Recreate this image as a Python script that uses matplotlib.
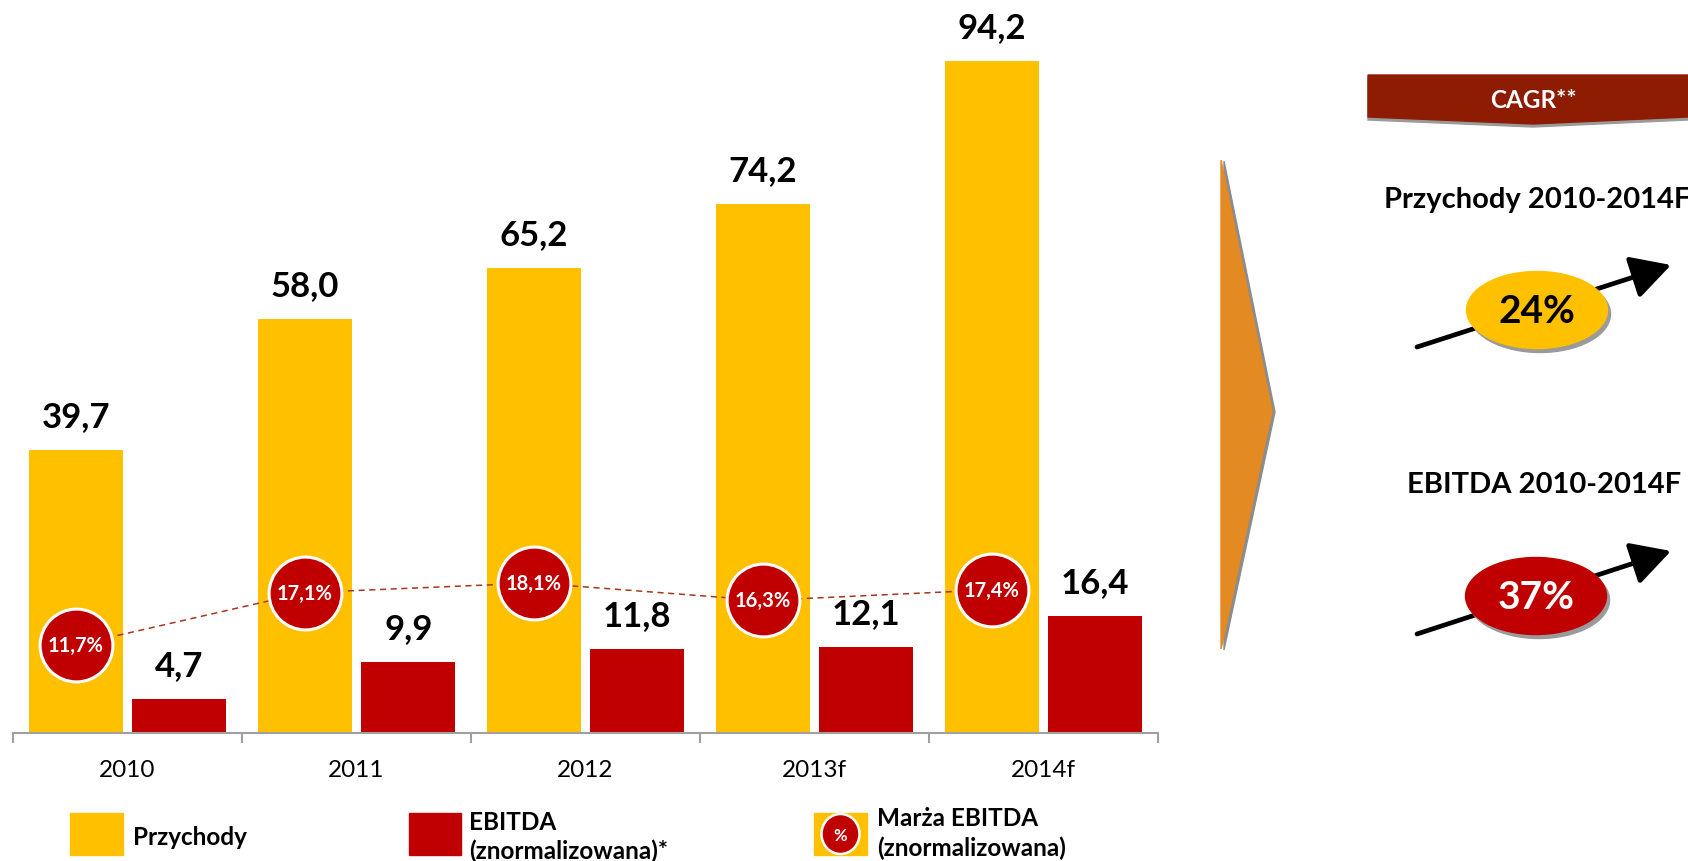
import matplotlib
matplotlib.use("Agg")
import matplotlib.pyplot as plt
from matplotlib.patches import Rectangle, Ellipse, Polygon
import numpy as np

plt.rcParams['font.family'] = ['Lato', 'DejaVu Sans']

# ---- data ----
years = ["2010", "2011", "2012", "2013f", "2014f"]
revenue = [39.7, 58.0, 65.2, 74.2, 94.2]
ebitda = [4.7, 9.9, 11.8, 12.1, 16.4]
margin = [11.7, 17.1, 18.1, 16.3, 17.4]
cagr_labels = ["Przychody 2010-2014F", "EBITDA 2010-2014F"]
cagr_values = ["24%", "37%"]
legend_labels = ["Przychody", "EBITDA\n(znormalizowana)*", "Marża EBITDA\n(znormalizowana)"]

YELLOW = "#FFC000"
RED = "#C00000"
W, H = 1688, 862

def fmt(v):
    return f"{v:.1f}".replace(".", ",")

fig = plt.figure(figsize=(W / 100, H / 100), dpi=100)
ax = fig.add_axes([13 / W, 128 / H, 1145 / W, 713 / H])
x = np.arange(len(years))
bw = 0.41
off = 0.226
ax.bar(x - off, revenue, bw, color=YELLOW, zorder=2)
ax.bar(x + off, ebitda, bw, color=RED, zorder=2)
ax.set_xlim(-0.5, len(years) - 0.5)
ax.set_ylim(0, 100)

for xi, v in zip(x, revenue):
    ax.annotate(fmt(v), (xi - off, v), xytext=(0, 24.5), textcoords="offset points",
                ha="center", va="center", fontsize=25, fontweight="bold", color="black")
for xi, v in zip(x, ebitda):
    ax.annotate(fmt(v), (xi + off, v), xytext=(0, 24.5), textcoords="offset points",
                ha="center", va="center", fontsize=25, fontweight="bold", color="black")

for s in ["top", "right", "left"]:
    ax.spines[s].set_visible(False)
ax.spines["bottom"].set_color("#A0A0A0")
ax.spines["bottom"].set_linewidth(1.5)
ax.set_yticks([])
ax.set_xticks(x)
ax.set_xticklabels(years, fontsize=17.5)
ax.tick_params(axis="x", which="major", length=0, pad=19)
ax.set_xticks(np.arange(-0.5, len(years), 1.0), minor=True)
ax.tick_params(axis="x", which="minor", length=7, width=1.5, color="#A0A0A0", direction="out")

# margin on twin axis
ax2 = ax.twinx()
ax2.set_ylim(2.62, 76.2)
ax2.axis("off")
ax2.plot(x - off, margin, linestyle=(0, (4, 3)), color="#A8361C", lw=1.1, zorder=2)
ax2.scatter(x - off, margin, s=2750, color=RED, edgecolor="white", linewidth=2.2, zorder=3)
for xi, m in zip(x, margin):
    ax2.text(xi - off, m, f"{m:.1f}%".replace(".", ","), ha="center", va="center",
             fontsize=14.5, fontweight="bold", color="white", zorder=4)

# ---- overlay in pixel coordinates ----
ov = fig.add_axes([0, 0, 1, 1], facecolor="none")
ov.set_xlim(0, W)
ov.set_ylim(H, 0)
ov.axis("off")

LFS = 17.5
# legend
ov.add_patch(Rectangle((70, 814), 53, 42, color=YELLOW))
ov.text(133, 838, legend_labels[0], fontsize=LFS, fontweight="bold", va="center", ha="left")
ov.add_patch(Rectangle((409, 814), 52, 42, color=RED))
l1, l2 = legend_labels[1].split("\n")
ov.text(469, 823, l1, fontsize=LFS, fontweight="bold", va="center", ha="left")
ov.text(469, 851, l2, fontsize=LFS, fontweight="bold", va="center", ha="left")
ov.add_patch(Rectangle((814, 814), 53, 42, color=YELLOW))
ov.add_patch(Ellipse((840.5, 835), 38, 40, facecolor=RED, edgecolor="white", lw=1.8))
ov.text(840.5, 836, "%", fontsize=12, fontweight="bold", color="white", ha="center", va="center")
m1, m2 = legend_labels[2].split("\n")
ov.text(877, 819, m1, fontsize=LFS, fontweight="bold", va="center", ha="left")
ov.text(877, 848, m2, fontsize=LFS, fontweight="bold", va="center", ha="left")

# chevron
ov.add_patch(Polygon([(1224, 162), (1275, 413), (1224, 651)], closed=True, color="#8C8C8C"))
ov.add_patch(Polygon([(1221, 161), (1272, 412), (1221, 650)], closed=True, color="#E38A22"))

# CAGR banner
ov.add_patch(Polygon([(1368, 79), (W, 79), (W, 121), (1533, 128), (1368, 121)], closed=True, color="#9A9A9A"))
ov.add_patch(Polygon([(1368, 76), (W, 76), (W, 118), (1533, 125), (1368, 118)], closed=True, color="#8E1C02"))
ov.text(1533, 100, "CAGR**", fontsize=17.5, fontweight="bold", color="white", ha="center", va="center")

# CAGR blocks
ov.text(1537, 200, cagr_labels[0], fontsize=21, fontweight="bold", ha="center", va="center")
ov.text(1544, 485, cagr_labels[1], fontsize=21, fontweight="bold", ha="center", va="center")

for (cx, cy), (ax0, ay0, ax1, ay1), fc, tc, val in [
    ((1537, 311), (1417, 348, 1671, 266), YELLOW, "black", cagr_values[0]),
    ((1536, 597), (1417, 635, 1671, 552), RED, "white", cagr_values[1]),
]:
    ov.annotate("", xy=(ax1, ay1), xytext=(ax0, ay0),
                arrowprops=dict(arrowstyle="-|>,head_length=1.1,head_width=0.6", lw=3.4,
                                color="black", mutation_scale=22, shrinkA=0, shrinkB=0))
    ov.add_patch(Ellipse((cx + 3, cy + 4), 141, 77, color="#9A9A9A", zorder=3))
    ov.add_patch(Ellipse((cx, cy), 141, 77, color=fc, zorder=4))
    ov.text(cx, cy + 1, val, fontsize=28, fontweight="bold", color=tc, ha="center", va="center", zorder=5)

fig.savefig("out.png", dpi=100)
